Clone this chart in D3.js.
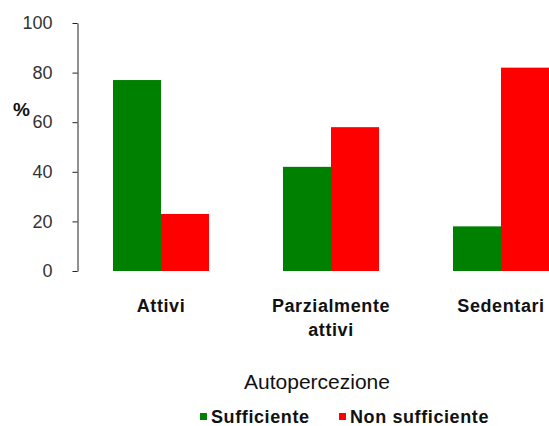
<!DOCTYPE html>
<html>
<head>
<meta charset="utf-8">
<script src="https://cdn.jsdelivr.net/npm/d3@7"></script>
<style>
  html, body { margin: 0; padding: 0; background: #fff; }
  svg { display: block; }
</style>
</head>
<body>
<svg id="chart" width="549" height="426"></svg>
<script>
const categories = ["Attivi", "Parzialmente attivi", "Sedentari"];
const series = ["Sufficiente", "Non sufficiente"];
const sufficiente = [77, 42, 18];
const nonSufficiente = [23, 58, 82];
const yTicks = [0, 20, 40, 60, 80, 100];
const colors = ["#008000", "#ff0000"];

const svg = d3.select("#chart");
const font = "'Liberation Sans', Arial, sans-serif";

const x = d3.scaleBand().domain(categories).range([76, 586]).paddingInner(0.435).paddingOuter(0.2175);
const x1 = d3.scaleBand().domain(series).range([0, x.bandwidth()]);
const y = d3.scaleLinear().domain([0, 100]).range([271, 23]);

const values = [sufficiente, nonSufficiente];
const data = [];
categories.forEach((c, i) => series.forEach((s, j) => data.push({c, s, v: values[j][i], j})));

svg.append("g").selectAll("rect").data(data).enter().append("rect")
  .attr("x", d => x(d.c) + x1(d.s))
  .attr("y", d => y(d.v))
  .attr("width", x1.bandwidth())
  .attr("height", d => y(0) - y(d.v))
  .attr("fill", d => colors[d.j]);

const yAxis = svg.append("g").attr("transform", "translate(77.5,0)")
  .call(d3.axisLeft(y).tickValues(yTicks).tickSize(5).tickPadding(20).tickSizeOuter(0));
yAxis.select(".domain").attr("stroke", "#222");
yAxis.selectAll(".tick line").attr("stroke", "#222");
yAxis.selectAll(".tick text").attr("fill", "#333").style("font-family", font).style("font-size", "18px");

svg.append("text").attr("x", 13).attr("y", 116).text("%")
  .style("font-family", font).style("font-size", "19px").style("font-weight", "bold").attr("fill", "#111");

// category labels
const catLines = {"Attivi": ["Attivi"], "Parzialmente attivi": ["Parzialmente", "attivi"], "Sedentari": ["Sedentari"]};
categories.forEach(c => {
  const t = svg.append("text").attr("text-anchor", "middle")
    .attr("x", x(c) + x.bandwidth() / 2).attr("y", 312)
    .style("font-family", font).style("font-size", "18px").style("font-weight", "bold")
    .style("letter-spacing", "0.6px").attr("fill", "#111");
  catLines[c].forEach((l, i) => t.append("tspan").attr("x", x(c) + x.bandwidth() / 2).attr("dy", i === 0 ? 0 : 24).text(l));
});

svg.append("text").attr("x", 317).attr("y", 389).attr("text-anchor", "middle").text("Autopercezione")
  .style("font-family", font).style("font-size", "21px").attr("fill", "#111");

// legend
const legendX = [200, 339];
series.forEach((s, j) => {
  svg.append("rect").attr("x", legendX[j]).attr("y", 413).attr("width", 7).attr("height", 7).attr("fill", colors[j]);
  svg.append("text").attr("x", legendX[j] + 11).attr("y", 423).text(s)
    .style("font-family", font).style("font-size", "18px").style("font-weight", "bold")
    .style("letter-spacing", "0.6px").attr("fill", "#111");
});
</script>
</body>
</html>
